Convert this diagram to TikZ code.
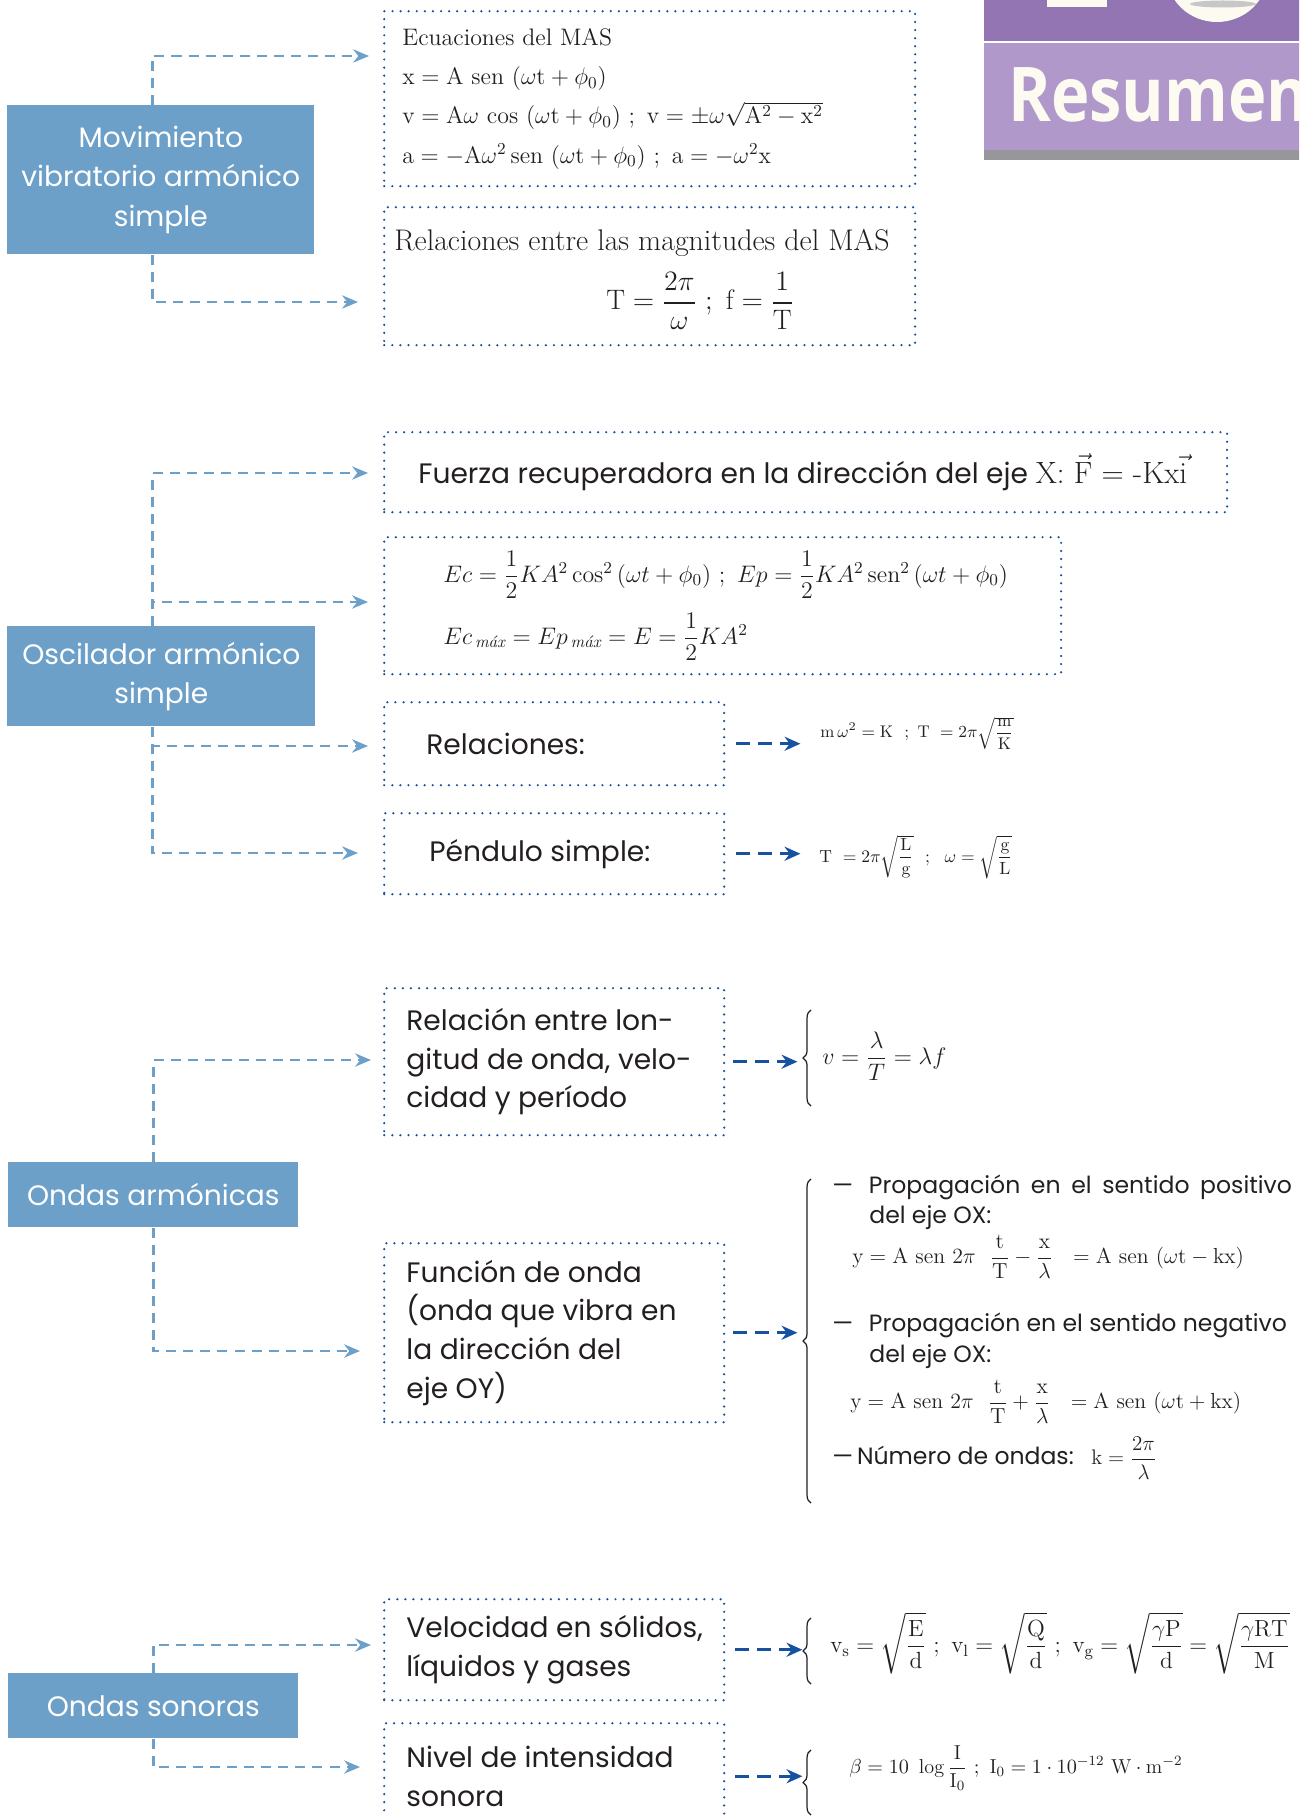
\RequirePackage{fix-cm}
\documentclass[tikz,border=0pt]{standalone}
\usepackage{amsmath}
\usepackage{fontspec}
\newfontfamily\gotica{Poppins}
\newfontfamily\titulo{Open Sans}
\usetikzlibrary{positioning,arrows.meta,decorations.pathreplacing}

\begin{document}
\begin{tikzpicture}[x=0.02cm, y=-0.02cm,
  tema/.style={fill=azulclaro, text=white, align=center, inner sep=0pt,
    anchor=north west, font=\gotica\fontsize{16}{22.5}\selectfont},
  caja/.style={draw=azuloscuro, line width=1.4pt, line cap=round,
    dash pattern=on 0pt off 4.6pt, anchor=north west, inner sep=0pt},
  etiqueta/.style={text=texto, align=left, inner sep=0pt,
    font=\gotica\fontsize{16}{22}\selectfont},
  linea/.style={text=texto, inner sep=0pt, anchor=west,
    font=\gotica\fontsize{13.4}{18}\selectfont},
  formula/.style={text=texto, inner sep=0pt, anchor=west},
  rama/.style={draw=azulclaro, line width=1.5pt, dash pattern=on 5.7pt off 4pt,
    -{Stealth[length=9pt, width=7.5pt]}},
  flecha/.style={draw=azuloscuro, line width=1.8pt, dash pattern=on 7.5pt off 5pt,
    -{Stealth[length=9pt, width=8pt]}},
  llave/.style={draw=texto, line width=0.7pt, decorate,
    decoration={brace, amplitude=4.5pt}},
]
  % Colores
  \definecolor{azulclaro}{RGB}{108,160,200}
  \definecolor{azuloscuro}{RGB}{22,82,160}
  \definecolor{texto}{RGB}{35,31,32}
  \definecolor{moradooscuro}{RGB}{146,117,178}
  \definecolor{moradoclaro}{RGB}{176,153,202}
  \definecolor{grisbarra}{RGB}{150,150,155}
  \definecolor{crema}{RGB}{253,250,242}

  \useasboundingbox (0,0) rectangle (1299,1817);
  \clip (0,0) rectangle (1299,1817);

  % --- Cabecera "Resumen" ---
  \fill[moradooscuro] (984,-10) rectangle (1310,41.5);
  \fill[moradoclaro] (984,43.5) rectangle (1310,150);
  \fill[grisbarra] (984,150) rectangle (1310,160);
  \fill[crema] (1047,-10) rectangle (1107,7);
  \fill[crema] (1217,-25) ellipse [x radius=1cm, y radius=0.94cm];
  \fill[black!22] (1223,4) ellipse [x radius=0.66cm, y radius=0.07cm];
  \node[font=\titulo\bfseries\fontsize{43}{48}\selectfont, text=crema,
    anchor=base west, inner sep=0pt] (resumen) at (1008,122) {\scalebox{0.86}[1]{Resumen}};

  % --- Movimiento vibratorio armónico simple ---
  \node[tema, minimum width=6.14cm, minimum height=2.98cm] (mov) at (7,105)
    {Movimiento\\vibratorio armónico\\simple};
  \node[caja, minimum width=10.62cm, minimum height=3.5cm] (ecu) at (383,10) {};
  \node[caja, minimum width=10.62cm, minimum height=2.76cm] (mag) at (383,206) {};

  \node[formula, align=left, font=\fontsize{13.6}{22.3}\selectfont,
    right=0.38cm of ecu.west] (ecutxt)
    {Ecuaciones del MAS\\
     $\mathrm{x} = \mathrm{A\ sen}\ (\omega\mathrm{t} + \phi_0)$\\
     $\mathrm{v} = \mathrm{A}\omega\ \mathrm{cos}\ (\omega\mathrm{t} + \phi_0)\ ;\ \mathrm{v} = \pm\omega\sqrt{\mathrm{A}^2 - \mathrm{x}^2}$\\
     $\mathrm{a} = -\mathrm{A}\omega^2\,\mathrm{sen}\ (\omega\mathrm{t} + \phi_0)\ ;\ \mathrm{a} = -\omega^2\mathrm{x}$};
  \node[formula, font=\fontsize{17}{20}\selectfont] (magtit) at (394,243)
    {Relaciones entre las magnitudes del MAS};
  \node[formula, anchor=center, font=\fontsize{16}{19}\selectfont] (magfor) at (700,301)
    {$\mathrm{T} = \dfrac{2\pi}{\omega}\ ;\ \mathrm{f} = \dfrac{1}{\mathrm{T}}$};

  \coordinate (m1) at (369,56);
  \coordinate (m2) at (358,302);
  \draw[rama] ([xshift=-0.17cm]mov.north) |- (m1);
  \draw[rama] ([xshift=-0.17cm]mov.south) |- (m2);

  % --- Oscilador armónico simple ---
  \node[tema, minimum width=6.16cm, minimum height=2cm] (osc) at (7,626)
    {Oscilador armónico\\simple};
  \node[caja, minimum width=16.86cm, minimum height=1.6cm] (fue) at (383,431) {};
  \node[caja, minimum width=13.54cm, minimum height=2.74cm] (ene) at (383,536) {};
  \node[caja, minimum width=6.8cm, minimum height=1.66cm] (rel) at (383,701) {};
  \node[caja, minimum width=6.8cm, minimum height=1.62cm] (pen) at (383,812) {};

  \node[etiqueta, right=0.7cm of fue.west] (fuetxt)
    {Fuerza recuperadora en la dirección del eje {\rmfamily\fontsize{17.5}{22}\selectfont X: $\vec{\mathrm{F}}$ = -Kx$\vec{\mathrm{i}}$}};
  \node[formula, align=left, font=\fontsize{13.6}{16}\selectfont,
    right=1.2cm of ene.west] (enetxt)
    {$Ec = \dfrac{1}{2}KA^2\,\mathrm{cos}^2\,(\omega t + \phi_0)\ ;\ Ep = \dfrac{1}{2}KA^2\,\mathrm{sen}^2\,(\omega t + \phi_0)$\\[7pt]
     $Ec_{\,\text{\itshape máx}} = Ep_{\,\text{\itshape máx}} = E = \dfrac{1}{2}KA^2$};
  \node[etiqueta, right=0.86cm of rel.west] (reltxt) {Relaciones:};
  \node[etiqueta, right=0.92cm of pen.west] (pentxt) {Péndulo simple:};

  \node[formula, font=\fontsize{9.6}{12}\selectfont] (frel) at (820,733)
    {$\mathrm{m}\,\omega^2 = \mathrm{K}\ \ ;\ \mathrm{T}\ = 2\pi\sqrt{\dfrac{\mathrm{m}}{\mathrm{K}}}$};
  \node[formula, font=\fontsize{10}{12}\selectfont] (fpen) at (819,857)
    {$\mathrm{T}\ = 2\pi\sqrt{\dfrac{\mathrm{L}}{\mathrm{g}}}\ \ ;\ \ \omega = \sqrt{\dfrac{\mathrm{g}}{\mathrm{L}}}$};

  \coordinate (o1) at (368,473);
  \coordinate (o2) at (368,602);
  \coordinate (o3) at (368,746);
  \coordinate (o4) at (358,853);
  \draw[rama] ([xshift=-0.18cm]osc.north) |- (o1);
  \draw[rama] ([xshift=-0.18cm]osc.north) |- (o2);
  \draw[rama] ([xshift=-0.18cm]osc.south) |- (o3);
  \draw[rama] ([xshift=-0.18cm]osc.south) |- (o4);
  \draw[flecha] ([xshift=0.22cm]rel.east) -- ([xshift=1.5cm]rel.east);
  \draw[flecha] ([xshift=0.22cm]pen.east) -- ([xshift=1.5cm]pen.east);

  % --- Ondas armónicas ---
  \node[tema, minimum width=5.8cm, minimum height=1.3cm] (arm) at (8,1162) {Ondas armónicas};
  \node[caja, minimum width=6.8cm, minimum height=2.94cm] (lon) at (383,987) {};
  \node[caja, minimum width=6.8cm, minimum height=3.58cm] (fun) at (383,1242) {};
  \node[etiqueta, right=0.46cm of lon.west] (lontxt)
    {Relación entre lon-\\gitud de onda, velo-\\cidad y período};
  \node[etiqueta, right=0.46cm of fun.west] (funtxt)
    {Función de onda\\(onda que vibra en\\la dirección del\\eje OY)};

  \draw[llave] (811,1106) -- (811,1010);
  \node[formula, font=\fontsize{13.6}{16}\selectfont] (fv) at (822,1056)
    {$v = \dfrac{\lambda}{T} = \lambda f$};

  \draw[llave] (811,1503) -- (811,1179);
  \node[linea] (pos) at (832,1187)
    {—\hspace{9pt}\makebox[8.46cm][s]{Propagación en el sentido positivo}};
  \node[linea] (posox) at (869,1218) {del eje OX:};
  \node[formula, font=\fontsize{12.4}{15}\selectfont] (ypos) at (852,1257)
    {$\mathrm{y} = \mathrm{A\ sen\ 2}\pi\ \ \dfrac{\mathrm{t}}{\mathrm{T}} - \dfrac{\mathrm{x}}{\lambda}\ \ = \mathrm{A\ sen}\ (\omega\mathrm{t} - \mathrm{kx})$};
  \node[linea] (neg) at (832,1325)
    {—\hspace{9pt}Propagación en el sentido negativo};
  \node[linea] (negox) at (869,1357) {del eje OX:};
  \node[formula, font=\fontsize{12.4}{15}\selectfont] (yneg) at (850,1402)
    {$\mathrm{y} = \mathrm{A\ sen\ 2}\pi\ \ \dfrac{\mathrm{t}}{\mathrm{T}} + \dfrac{\mathrm{x}}{\lambda}\ \ = \mathrm{A\ sen}\ (\omega\mathrm{t} + \mathrm{kx})$};
  \node[linea] (num) at (832,1458)
    {—\,Número de ondas:\hspace{10pt}{\rmfamily\fontsize{12}{14}\selectfont$\mathrm{k} = \dfrac{2\pi}{\lambda}$}};

  \coordinate (a1) at (371,1060);
  \coordinate (a2) at (360,1351);
  \draw[rama] (arm.north) |- (a1);
  \draw[rama] (arm.south) |- (a2);
  \draw[flecha] ([xshift=0.16cm]lon.east) -- ([xshift=1.44cm]lon.east);
  \draw[flecha] ([xshift=0.16cm]fun.east) -- ([xshift=1.44cm]fun.east);

  % --- Ondas sonoras ---
  \node[tema, minimum width=5.8cm, minimum height=1.3cm] (son) at (8,1673) {Ondas sonoras};
  \node[caja, minimum width=6.8cm, minimum height=2.02cm] (vel) at (383,1598) {};
  \node[caja, minimum width=6.8cm, minimum height=2.12cm] (niv) at (383,1722) {};
  \node[etiqueta, right=0.46cm of vel.west] (veltxt) {Velocidad en sólidos,\\líquidos y gases};
  \node[etiqueta, right=0.46cm of niv.west] (nivtxt) {Nivel de intensidad\\sonora};

  \draw[llave] (811,1684) -- (811,1618);
  \node[formula, font=\fontsize{13.3}{16}\selectfont] (fvel) at (830,1643)
    {$\mathrm{v_s} = \sqrt{\dfrac{\mathrm{E}}{\mathrm{d}}}\ ;\ \mathrm{v_l} = \sqrt{\dfrac{\mathrm{Q}}{\mathrm{d}}}\ ;\ \mathrm{v_g} = \sqrt{\dfrac{\gamma\mathrm{P}}{\mathrm{d}}} = \sqrt{\dfrac{\gamma\mathrm{RT}}{\mathrm{M}}}$};
  \draw[llave] (811,1815) -- (811,1750);
  \node[formula, font=\fontsize{11.5}{14}\selectfont] (fniv) at (849,1768)
    {$\beta = 10\ \log\dfrac{\mathrm{I}}{\mathrm{I_0}}\ ;\ \mathrm{I_0} = 1\cdot 10^{-12}\ \mathrm{W}\cdot\mathrm{m}^{-2}$};

  \coordinate (s1) at (371,1645);
  \coordinate (s2) at (360,1767);
  \draw[rama] (son.north) |- (s1);
  \draw[rama] (son.south) |- (s2);
  \draw[flecha] ([xshift=0.2cm]vel.east) -- ([xshift=1.54cm]vel.east);
  \draw[flecha] ([xshift=0.2cm]niv.east) -- ([xshift=1.54cm]niv.east);
\end{tikzpicture}
\end{document}
